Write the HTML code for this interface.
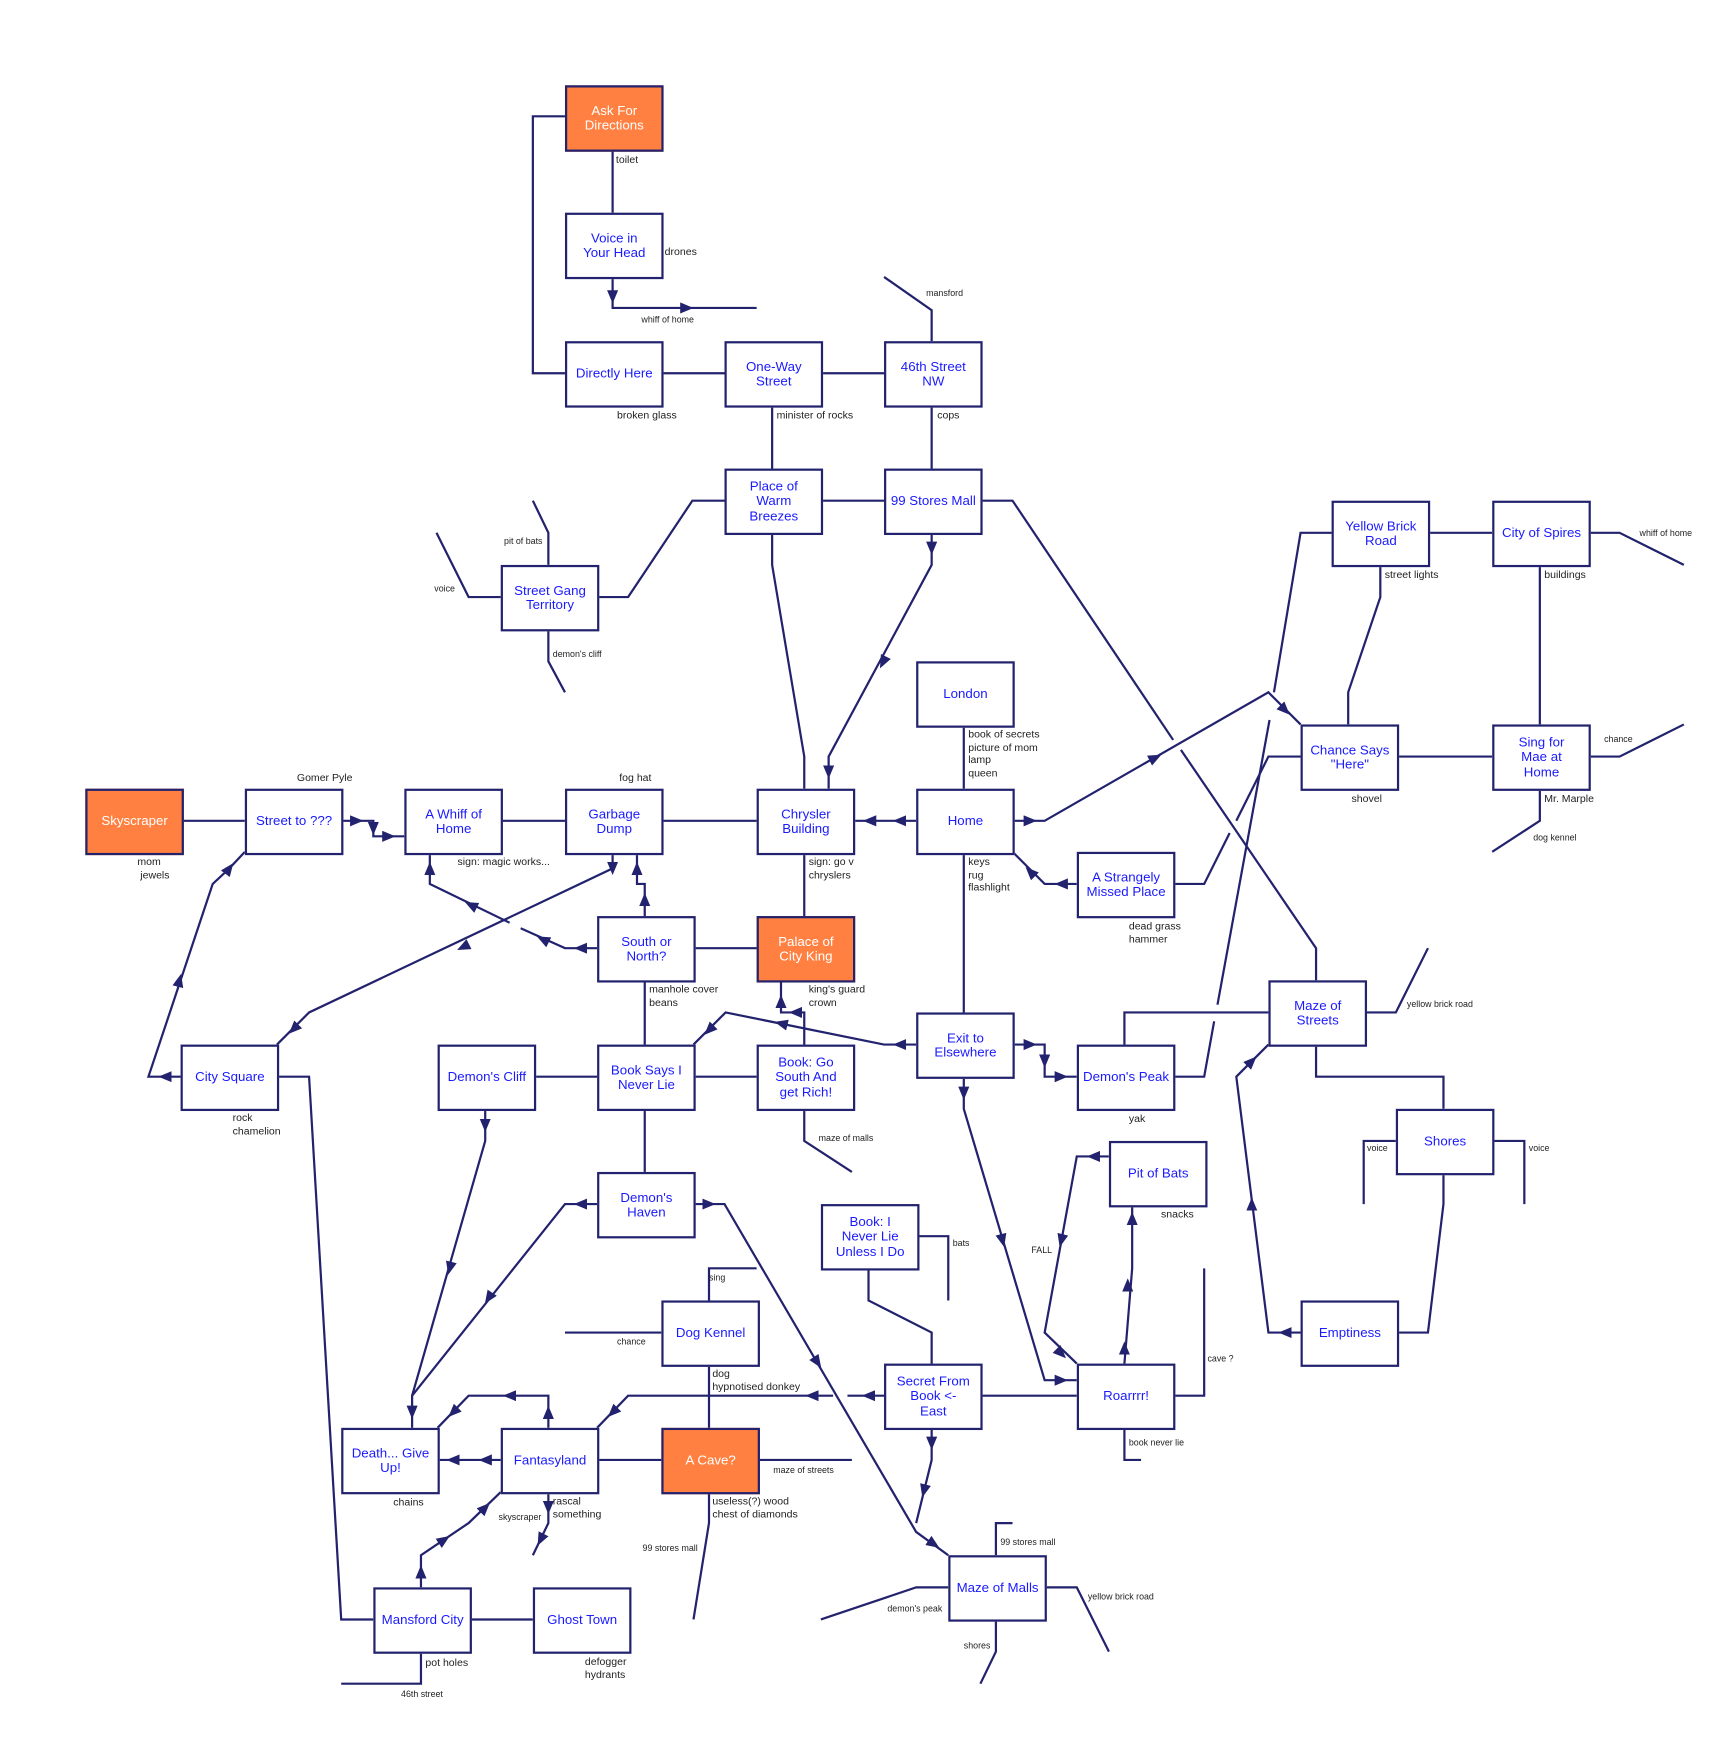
<!DOCTYPE html>
<html><head><meta charset="utf-8"><style>
html,body{margin:0;padding:0;background:#fff;width:1736px;height:1738px;overflow:hidden}
#w{position:absolute;left:0;top:0;width:1567px;height:1569px;transform:scale(1.1078,1.1077);transform-origin:0 0;font-family:"Liberation Sans",sans-serif}
svg{position:absolute;left:0;top:0}
.n{position:absolute;width:85px;height:56px;border:2px solid #22226e;background:#fff;color:#1a1aff;font-size:12px;line-height:13.5px;display:flex;align-items:center;justify-content:center;text-align:center}
.o{background:#ff8040;color:#fff}
.l{position:absolute;font-size:9.5px;color:#222;line-height:11.5px;white-space:nowrap}
.s{font-size:8px}
</style></head><body><div id="w">
<svg width="1567" height="1569" viewBox="0 0 1567 1569">
<defs><marker id="m" markerUnits="userSpaceOnUse" markerWidth="12" markerHeight="12" refX="6" refY="5" orient="auto"><path d="M0,0 L12,5 L0,10 z" fill="#22226e"/></marker></defs>
<g fill="none" stroke="#22226e" stroke-width="2">
<polyline points="510,105 481,105 481,337 510,337"/>
<polyline points="553,134 553,192"/>
<polyline points="553,250 553,278 683,278"/>
<polyline points="597,337 654,337"/><polyline points="741,337 798,337"/>
<polyline points="841,308 841,280 798,250"/>
<polyline points="697,366 697,423"/><polyline points="841,366 841,423"/>
<polyline points="741,452 798,452"/>
<polyline points="654,452 625,452 567,539 539,539"/>
<polyline points="495,510 495,481 481,452"/>
<polyline points="452,539 423,539 394,481"/>
<polyline points="495,568 495,597 510,625"/>
<polyline points="697,481 697,510 726,683 726,712"/>
<polyline points="841,481 841,510 748,683 748,712"/>
<polyline points="885,452 914,452 1059,668"/><polyline points="1066,677 1188,856 1188,885"/>
<polyline points="1202,481 1174,481 1150,625"/><polyline points="1146,650 1099,907"/><polyline points="1096,922 1087,972 1059,972"/>
<polyline points="1289,481 1347,481"/>
<polyline points="1246,510 1246,539 1217,625 1217,654"/>
<polyline points="1433,481 1462,481 1520,510"/>
<polyline points="1390,510 1390,654"/>
<polyline points="1260,683 1347,683"/>
<polyline points="1433,683 1462,683 1520,654"/>
<polyline points="1390,712 1390,741 1347,769"/>
<polyline points="1174,683 1145,683 1116,741"/><polyline points="1110,752 1087,798 1059,798"/>
<polyline points="914,741 943,741 1145,625 1174,654"/>
<polyline points="870,654 870,712"/>
<polyline points="827,741 770,741"/>
<polyline points="870,769 870,914"/>
<polyline points="914,769 943,798 972,798"/>
<polyline points="683,741 597,741"/><polyline points="510,741 452,741"/>
<polyline points="308,741 337,741 337,755 365,755"/>
<polyline points="163,741 221,741"/>
<polyline points="726,769 726,827"/>
<polyline points="388,769 388,798 460,833"/><polyline points="470,838 510,856 539,856"/>
<polyline points="553,769 553,784 279,914 250,943"/>
<polyline points="582,827 582,798 575,798 575,769"/>
<polyline points="626,856 683,856"/>
<polyline points="582,885 582,943"/>
<polyline points="705,885 705,914 726,914 726,943"/>
<polyline points="626,943 655,914 798,943 827,943"/>
<polyline points="914,943 943,943 943,972 972,972"/>
<polyline points="870,972 870,1001 943,1246 972,1246"/>
<polyline points="163,972 134,972 192,798 207,784 221,769"/>
<polyline points="250,972 279,972 308,1462 337,1462"/>
<polyline points="481,972 539,972"/><polyline points="626,972 683,972"/>
<polyline points="582,1001 582,1058"/>
<polyline points="726,1001 726,1030 769,1058"/>
<polyline points="438,1001 438,1030 372,1260 372,1289"/>
<polyline points="539,1087 510,1087 372,1260"/>
<polyline points="626,1087 654,1087 827,1383 856,1404"/>
<polyline points="827,1116 856,1116 856,1174"/>
<polyline points="784,1145 784,1174 841,1203 841,1231"/>
<polyline points="640,1174 640,1145 683,1145"/>
<polyline points="597,1203 510,1203"/>
<polyline points="640,1231 640,1289"/>
<polyline points="798,1260 765,1260"/><polyline points="752,1260 567,1260 539,1289"/>
<polyline points="885,1260 972,1260"/>
<polyline points="841,1289 841,1318 827,1375"/>
<polyline points="1059,1260 1087,1260 1087,1145"/>
<polyline points="1015,1289 1015,1318 1030,1318"/>
<polyline points="1015,1231 1022,1145 1022,1087"/>
<polyline points="972,1231 943,1203 972,1044 1001,1044"/>
<polyline points="1015,943 1015,914 1145,914"/>
<polyline points="1231,914 1260,914 1289,856"/>
<polyline points="1188,943 1188,972 1303,972 1303,1001"/>
<polyline points="1145,943 1116,972 1145,1203 1174,1203"/>
<polyline points="1260,1030 1231,1030 1231,1087"/>
<polyline points="1347,1030 1376,1030 1376,1087"/>
<polyline points="1303,1058 1303,1087 1289,1203 1260,1203"/>
<polyline points="452,1318 395,1318"/>
<polyline points="495,1289 495,1260 423,1260 395,1289"/>
<polyline points="539,1318 597,1318"/>
<polyline points="683,1318 769,1318"/>
<polyline points="640,1347 640,1375 626,1462"/>
<polyline points="495,1347 495,1375 481,1404"/>
<polyline points="452,1347 423,1375 380,1404 380,1433"/>
<polyline points="423,1462 481,1462"/>
<polyline points="380,1491 380,1520 308,1520"/>
<polyline points="899,1404 899,1375 914,1375"/>
<polyline points="856,1433 827,1433 741,1462"/>
<polyline points="943,1433 972,1433 1001,1491"/>
<polyline points="899,1462 899,1491 885,1520"/>
</g>
<g stroke="none" fill="none" marker-end="url(#m)">
<path d="M553,264 L553,268"/><path d="M616,278 L620,278"/>
<path d="M841,491 L841,495"/><path d="M799,594 L797,598"/><path d="M748,693 L748,697"/>
<path d="M926,741 L930,741"/><path d="M1039,686 L1043,684"/><path d="M1157,638 L1160,641"/>
<path d="M816,741 L812,741"/><path d="M789,741 L785,741"/>
<path d="M962,798 L958,798"/><path d="M933,790 L930,787"/>
<path d="M318,741 L322,741"/><path d="M337,744 L337,748"/><path d="M347,755 L351,755"/>
<path d="M528,856 L524,856"/><path d="M494,850 L490,848"/><path d="M429,819 L425,817"/><path d="M388,788 L388,784"/>
<path d="M553,780 L553,784"/><path d="M422,853 L418,855"/><path d="M268,926 L265,929"/>
<path d="M575,788 L575,784"/><path d="M582,816 L582,812"/>
<path d="M705,908 L705,904"/><path d="M722,914 L718,914"/>
<path d="M816,943 L812,943"/><path d="M709,925 L705,924"/><path d="M643,927 L640,930"/>
<path d="M926,943 L930,943"/><path d="M943,954 L943,958"/><path d="M954,972 L958,972"/>
<path d="M870,983 L870,987"/><path d="M904,1116 L905,1120"/><path d="M954,1246 L958,1246"/>
<path d="M153,972 L149,972"/><path d="M161,889 L162,885"/><path d="M204,788 L207,784"/>
<path d="M438,1012 L438,1016"/><path d="M407,1141 L406,1145"/><path d="M372,1271 L372,1275"/>
<path d="M528,1087 L524,1087"/><path d="M443,1169 L441,1172"/>
<path d="M636,1087 L640,1087"/><path d="M736,1227 L738,1230"/><path d="M840,1392 L843,1394"/>
<path d="M788,1260 L784,1260"/><path d="M737,1260 L733,1260"/><path d="M556,1272 L553,1275"/>
<path d="M841,1299 L841,1303"/><path d="M835,1342 L834,1346"/>
<path d="M1015,1221 L1015,1217"/><path d="M1018,1164 L1018,1160"/><path d="M1022,1104 L1022,1100"/>
<path d="M955,1219 L958,1222"/><path d="M959,1116 L958,1120"/><path d="M991,1044 L987,1044"/>
<path d="M1127,961 L1130,958"/><path d="M1130,1091 L1130,1087"/><path d="M1164,1203 L1160,1203"/>
<path d="M442,1318 L438,1318"/><path d="M413,1318 L409,1318"/>
<path d="M495,1279 L495,1275"/><path d="M464,1260 L460,1260"/><path d="M412,1272 L409,1275"/>
<path d="M495,1357 L495,1361"/><path d="M490,1386 L488,1390"/>
<path d="M380,1423 L380,1419"/><path d="M398,1392 L401,1390"/><path d="M435,1364 L438,1361"/>
</g>
</svg>
<div class="n o" style="left:510px;top:77px">Ask For<br>Directions</div>
<div class="n" style="left:510px;top:192px">Voice in<br>Your Head</div>
<div class="n" style="left:510px;top:308px">Directly Here</div>
<div class="n" style="left:654px;top:308px">One-Way<br>Street</div>
<div class="n" style="left:798px;top:308px">46th Street<br>NW</div>
<div class="n" style="left:654px;top:423px">Place of<br>Warm<br>Breezes</div>
<div class="n" style="left:798px;top:423px">99 Stores Mall</div>
<div class="n" style="left:452px;top:510px">Street Gang<br>Territory</div>
<div class="n" style="left:1202px;top:452px">Yellow Brick<br>Road</div>
<div class="n" style="left:1347px;top:452px">City of Spires</div>
<div class="n" style="left:827px;top:597px">London</div>
<div class="n" style="left:1174px;top:654px">Chance Says<br>"Here"</div>
<div class="n" style="left:1347px;top:654px">Sing for<br>Mae at<br>Home</div>
<div class="n o" style="left:77px;top:712px">Skyscraper</div>
<div class="n" style="left:221px;top:712px">Street to ???</div>
<div class="n" style="left:365px;top:712px">A Whiff of<br>Home</div>
<div class="n" style="left:510px;top:712px">Garbage<br>Dump</div>
<div class="n" style="left:683px;top:712px">Chrysler<br>Building</div>
<div class="n" style="left:827px;top:712px">Home</div>
<div class="n" style="left:972px;top:769px">A Strangely<br>Missed Place</div>
<div class="n" style="left:539px;top:827px">South or<br>North?</div>
<div class="n o" style="left:683px;top:827px">Palace of<br>City King</div>
<div class="n" style="left:1145px;top:885px">Maze of<br>Streets</div>
<div class="n" style="left:827px;top:914px">Exit to<br>Elsewhere</div>
<div class="n" style="left:163px;top:943px">City Square</div>
<div class="n" style="left:395px;top:943px">Demon's Cliff</div>
<div class="n" style="left:539px;top:943px">Book Says I<br>Never Lie</div>
<div class="n" style="left:683px;top:943px">Book: Go<br>South And<br>get Rich!</div>
<div class="n" style="left:972px;top:943px">Demon's Peak</div>
<div class="n" style="left:1260px;top:1001px">Shores</div>
<div class="n" style="left:1001px;top:1030px">Pit of Bats</div>
<div class="n" style="left:539px;top:1058px">Demon's<br>Haven</div>
<div class="n" style="left:741px;top:1087px">Book: I<br>Never Lie<br>Unless I Do</div>
<div class="n" style="left:597px;top:1174px">Dog Kennel</div>
<div class="n" style="left:1174px;top:1174px">Emptiness</div>
<div class="n" style="left:798px;top:1231px">Secret From<br>Book &lt;-<br>East</div>
<div class="n" style="left:972px;top:1231px">Roarrrr!</div>
<div class="n" style="left:308px;top:1289px">Death... Give<br>Up!</div>
<div class="n" style="left:452px;top:1289px">Fantasyland</div>
<div class="n o" style="left:597px;top:1289px">A Cave?</div>
<div class="n" style="left:856px;top:1404px">Maze of Malls</div>
<div class="n" style="left:337px;top:1433px">Mansford City</div>
<div class="n" style="left:481px;top:1433px">Ghost Town</div>

<div class="l" style="left:556px;top:139px">toilet</div>
<div class="l" style="left:600px;top:222px">drones</div>
<div class="l s" style="left:579px;top:283px">whiff of home</div>
<div class="l s" style="left:836px;top:259px">mansford</div>
<div class="l" style="left:557px;top:370px">broken glass</div>
<div class="l" style="left:701px;top:370px">minister of rocks</div>
<div class="l" style="left:846px;top:370px">cops</div>
<div class="l s" style="left:455px;top:483px">pit of bats</div>
<div class="l s" style="left:392px;top:526px">voice</div>
<div class="l s" style="left:499px;top:585px">demon's cliff</div>
<div class="l" style="left:1250px;top:514px">street lights</div>
<div class="l" style="left:1394px;top:514px">buildings</div>
<div class="l s" style="left:1480px;top:476px">whiff of home</div>
<div class="l" style="left:874px;top:658px">book of secrets<br>picture of mom<br>lamp<br>queen</div>
<div class="l s" style="left:1448px;top:662px">chance</div>
<div class="l" style="left:1220px;top:716px">shovel</div>
<div class="l" style="left:1394px;top:716px">Mr. Marple</div>
<div class="l s" style="left:1384px;top:751px">dog kennel</div>
<div class="l" style="left:268px;top:697px">Gomer Pyle</div>
<div class="l" style="left:559px;top:697px">fog hat</div>
<div class="l" style="left:124px;top:773px">mom<br>&nbsp;jewels</div>
<div class="l" style="left:413px;top:773px">sign: magic works...</div>
<div class="l" style="left:730px;top:773px">sign: go v<br>chryslers</div>
<div class="l" style="left:874px;top:773px">keys<br>rug<br>flashlight</div>
<div class="l" style="left:1019px;top:831px">dead grass<br>hammer</div>
<div class="l" style="left:586px;top:888px">manhole cover<br>beans</div>
<div class="l" style="left:730px;top:888px">king's guard<br>crown</div>
<div class="l s" style="left:1270px;top:901px">yellow brick road</div>
<div class="l" style="left:210px;top:1004px">rock<br>chamelion</div>
<div class="l" style="left:1019px;top:1005px">yak</div>
<div class="l s" style="left:739px;top:1022px">maze of malls</div>
<div class="l s" style="left:1234px;top:1031px">voice</div>
<div class="l s" style="left:1380px;top:1031px">voice</div>
<div class="l" style="left:1048px;top:1091px">snacks</div>
<div class="l s" style="left:860px;top:1117px">bats</div>
<div class="l s" style="left:931px;top:1123px">FALL</div>
<div class="l s" style="left:640px;top:1148px">sing</div>
<div class="l s" style="left:557px;top:1206px">chance</div>
<div class="l s" style="left:1090px;top:1221px">cave ?</div>
<div class="l" style="left:643px;top:1235px">dog<br>hypnotised donkey</div>
<div class="l s" style="left:1019px;top:1297px">book never lie</div>
<div class="l s" style="left:698px;top:1322px">maze of streets</div>
<div class="l" style="left:355px;top:1351px">chains</div>
<div class="l" style="left:499px;top:1350px">rascal<br>something</div>
<div class="l s" style="left:450px;top:1364px">skyscraper</div>
<div class="l" style="left:643px;top:1350px">useless(?) wood<br>chest of diamonds</div>
<div class="l s" style="left:580px;top:1392px">99 stores mall</div>
<div class="l s" style="left:903px;top:1387px">99 stores mall</div>
<div class="l s" style="left:982px;top:1436px">yellow brick road</div>
<div class="l s" style="left:801px;top:1447px">demon's peak</div>
<div class="l s" style="left:870px;top:1480px">shores</div>
<div class="l" style="left:384px;top:1496px">pot holes</div>
<div class="l" style="left:528px;top:1495px">defogger<br>hydrants</div>
<div class="l s" style="left:362px;top:1524px">46th street</div>
</div></body></html>
